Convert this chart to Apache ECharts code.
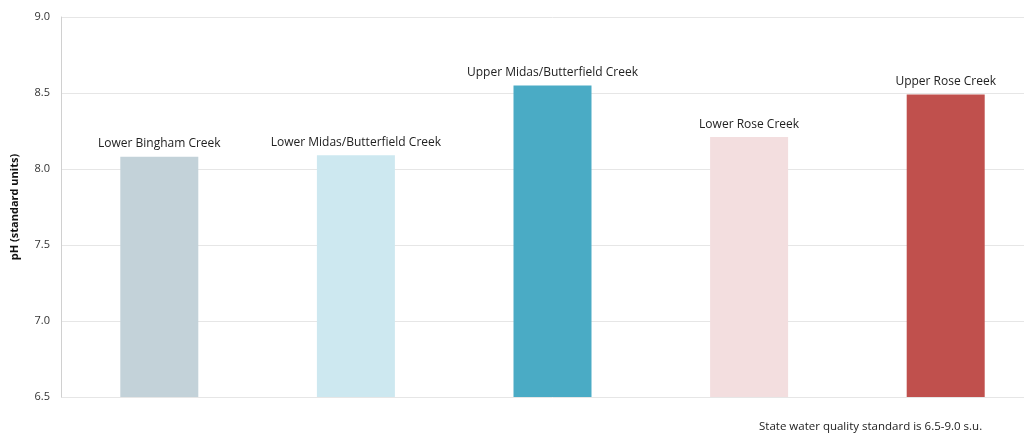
<!DOCTYPE html>
<html>
<head>
<meta charset="utf-8">
<script src="https://cdn.jsdelivr.net/npm/echarts@6/dist/echarts.min.js"></script>
<style>
html,body{margin:0;padding:0;background:#fff;overflow:hidden;width:1024px;height:438px;}
#chart{width:1044px;height:438px;}
</style>
</head>
<body>
<div id="chart"></div>
<script>
var categories = ['Lower Bingham Creek', 'Lower Midas/Butterfield Creek', 'Upper Midas/Butterfield Creek', 'Lower Rose Creek', 'Upper Rose Creek'];
var phValues = [8.08, 8.09, 8.55, 8.21, 8.49];
var barColors = ['#c3d2d9', '#cde8f0', '#4aabc5', '#f3dedf', '#c0504d'];
var yTicks = [6.5, 7.0, 7.5, 8.0, 8.5, 9.0];
var yAxisTitle = 'pH (standard units)';
var footnote = 'State water quality standard is 6.5-9.0 s.u.';

var font = 'Open Sans, Liberation Sans, sans-serif';
var chart = echarts.init(document.getElementById('chart'), null, {renderer: 'canvas'});
chart.setOption({
  animation: false,
  backgroundColor: '#ffffff',
  grid: {left: 61, right: 0, top: 17, height: 380, containLabel: false},
  graphic: [{
    type: 'text', left: 759, top: 421,
    style: {text: footnote, font: '11.5px ' + font, fill: '#222'}
  }],
  xAxis: {
    type: 'category', data: categories,
    axisLine: {show: false}, axisTick: {show: false}, axisLabel: {show: false}
  },
  yAxis: {
    type: 'value', min: yTicks[0], max: yTicks[yTicks.length - 1], interval: 0.5,
    name: yAxisTitle, nameLocation: 'middle', nameGap: 41, nameRotate: 90,
    nameTextStyle: {fontFamily: font, fontSize: 11, fontWeight: 'bold', color: '#111'},
    axisLine: {show: true, lineStyle: {color: '#d0d0d0', width: 1}},
    axisTick: {show: false},
    axisLabel: {fontFamily: font, fontSize: 11, color: '#333', margin: 11,
      formatter: function (v) { return v.toFixed(1); }},
    splitLine: {lineStyle: {color: '#e6e6e6', width: 1}}
  },
  series: [{
    type: 'bar', barWidth: 78,
    data: phValues.map(function (v, i) { return {value: v, itemStyle: {color: barColors[i]}}; }),
    label: {
      show: true, position: 'top', distance: 7,
      fontFamily: font, fontSize: 12, color: '#222',
      formatter: function (p) { return p.name; }
    }
  }]
});
</script>
</body>
</html>
